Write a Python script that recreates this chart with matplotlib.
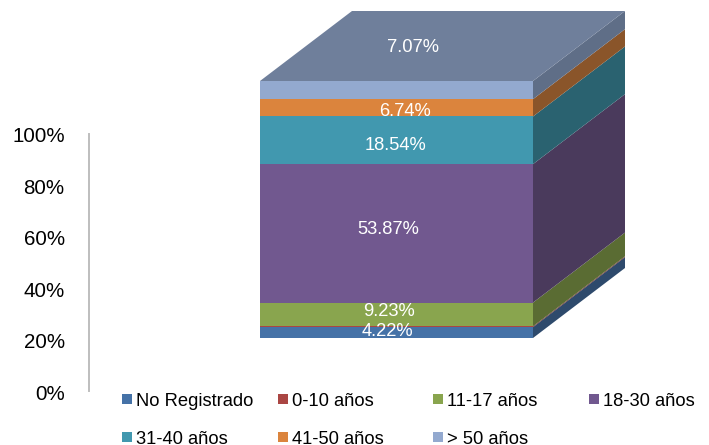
import numpy as np
import matplotlib
matplotlib.use("Agg")
import matplotlib.pyplot as plt
from matplotlib.patches import Rectangle
from matplotlib.transforms import ScaledTranslation

plt.rcParams['font.family'] = ['Liberation Sans', 'DejaVu Sans']

categories = ["No Registrado", "0-10 años", "11-17 años", "18-30 años",
              "31-40 años", "41-50 años", "> 50 años"]
values = [4.22, 0.33, 9.23, 53.87, 18.54, 6.74, 7.07]
y_ticks = [0, 20, 40, 60, 80, 100]
tick_labels = ["0%", "20%", "40%", "60%", "80%", "100%"]

front_colors = ["#4572A7", "#AA4643", "#89A54E", "#71588F", "#4198AF", "#DB843D", "#93A9CF"]
side_colors = ["#2E4A6C", "#6F2E2C", "#5A6C33", "#4A3A5C", "#2A6270", "#8A552A", "#5F6E87"]
top_color = "#6F7F9B"

W, H = 709, 445
PX = 257 / 100  # pixels per percent

def py(p):
    # pixel row of the image -> value on the y axis
    return (391 - p) / PX

fig = plt.figure(figsize=(W / 100, H / 100), dpi=100)
ax = fig.add_axes([0, 0, 1, 1])
ax.set_xlim(0, W)
ax.set_ylim(py(H), py(0))

for s in ["top", "right", "bottom"]:
    ax.spines[s].set_visible(False)
ax.spines["left"].set_position(("data", 89))
ax.spines["left"].set_bounds(0, 100)
ax.spines["left"].set_color("#BEBEBE")
ax.spines["left"].set_linewidth(1.4)
ax.set_xticks([])
ax.set_yticks(y_ticks)
ax.set_yticklabels(tick_labels, fontsize=14.8, color="black", va="center")
ax.tick_params(axis="y", length=0, pad=17.5)
# labels sit a little under their tick in the picture
shift = ScaledTranslation(0, -3 / 100, fig.dpi_scale_trans)
for lab in ax.get_yticklabels():
    lab.set_transform(lab.get_transform() + shift)

# block geometry in the image
x0, x1 = 260, 533
depth_x, depth_y = 92, 70 / PX
lift = py(338)

vals = np.array(values)
bottoms = lift + np.concatenate([[0], np.cumsum(vals)[:-1]])
tops = bottoms + vals

ax.bar(x0, vals, width=x1 - x0, bottom=bottoms, align="edge", color=front_colors, linewidth=0)

for b, t, c in zip(bottoms, tops, side_colors):
    ax.fill([x1, x1 + depth_x, x1 + depth_x, x1],
            [b, b + depth_y, t + depth_y, t], color=c, linewidth=0)

top_y = tops[-1]
ax.fill([x0, x1, x1 + depth_x, x0 + depth_x],
        [top_y, top_y, top_y + depth_y, top_y + depth_y], color=top_color, linewidth=0)

# data labels, 0-10 años has none in the picture
label_x = [387, None, 389, 388, 395, 405, 413]
label_y = [332, None, 312, 229, 145, 112, 47]
for v, lx, ly in zip(values, label_x, label_y):
    if lx is None:
        continue
    ax.text(lx, py(ly), f"{v:.2f}%", color="white", fontsize=13.2,
            ha="center", va="center")

# legend, columns are evenly spaced and second row runs off the figure
leg_x = [122, 278, 433, 589, 122, 278, 433]
leg_y = [399, 399, 399, 399, 437, 437, 437]
for name, c, lx, ly in zip(categories, front_colors, leg_x, leg_y):
    ax.add_patch(Rectangle((lx, py(ly + 5)), 10, 10 / PX, color=c, linewidth=0))
    ax.text(lx + 14, py(ly + 3), name, fontsize=13.2, color="black",
            ha="left", va="center", clip_on=False)

fig.savefig("out.png", dpi=100)
